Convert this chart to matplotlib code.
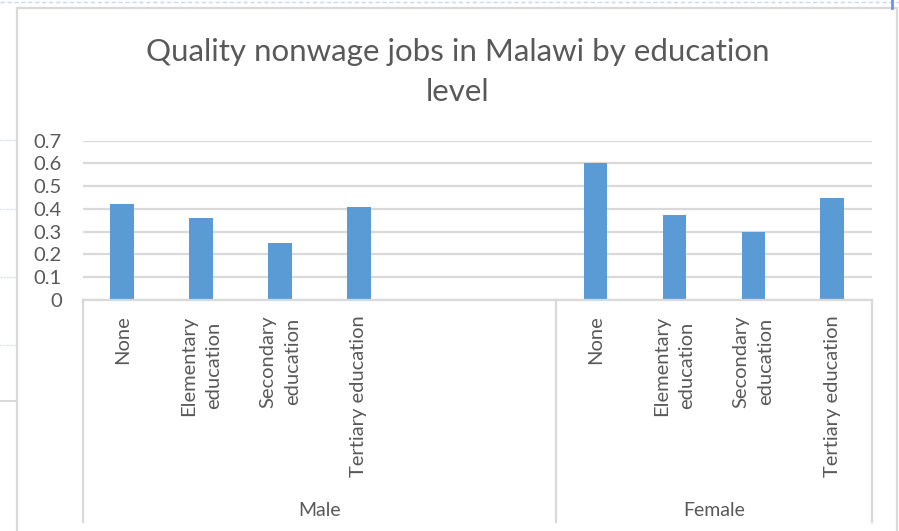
import matplotlib
matplotlib.use("Agg")
import matplotlib.pyplot as plt
from matplotlib.lines import Line2D
from matplotlib.patches import Rectangle
import matplotlib.transforms as mtransforms

# Data
education_levels = ["None", "Elementary\neducation", "Secondary\neducation", "Tertiary education"]
male_values = [0.42, 0.36, 0.25, 0.41]
female_values = [0.60, 0.375, 0.30, 0.45]
groups = ["Male", "Female"]
male_blank_slots = 2          # empty category rows in the Male block
y_ticks = [0, 0.1, 0.2, 0.3, 0.4, 0.5, 0.6, 0.7]
y_tick_labels = ["0", "0.1", "0.2", "0.3", "0.4", "0.5", "0.6", "0.7"]

TEXT = "#595959"
GRID = "#d9d9d9"
BAR = "#5b9bd5"
FONT = ["Lato", "DejaVu Sans"]

W, H = 899, 531
fig = plt.figure(figsize=(W / 100, H / 100), dpi=100)
fig.patch.set_facecolor("white")


def fx(px):
    return px / W


def fy(py):
    return 1 - py / H


# chart area frame and surrounding sheet marks
fig.add_artist(Rectangle((fx(17), fy(600)), fx(897) - fx(17), fy(8) - fy(600),
                         transform=fig.transFigure, fill=False, edgecolor=GRID, lw=1.6))
fig.add_artist(Line2D([0, 1], [fy(2), fy(2)], transform=fig.transFigure,
                      color="#c6d4fb", lw=1, ls=(0, (3, 2))))
fig.add_artist(Line2D([fx(892), fx(892)], [fy(0), fy(8)], transform=fig.transFigure,
                      color="#6f8ff5", lw=2))
fig.add_artist(Line2D([0, fx(17)], [fy(401), fy(401)], transform=fig.transFigure,
                      color=GRID, lw=1.4))
for yy in (140, 209, 277, 345):
    fig.add_artist(Line2D([0, fx(15)], [fy(yy), fy(yy)], transform=fig.transFigure,
                          color="#c6d4fb", lw=0.8, ls=(0, (1.5, 1.5))))

# plot area
left, right, top, bottom = 82.7, 871.7, 140.7, 300.0
ax = fig.add_axes([fx(left), fy(bottom), fx(right) - fx(left), fy(top) - fy(bottom)])

male_labels = education_levels + [""] * male_blank_slots
labels = male_labels + education_levels
n_male = len(male_labels)
male_pos = list(range(len(male_values)))
female_pos = [n_male + i for i in range(len(female_values))]

ax.bar(male_pos, male_values, width=0.30, color=BAR, zorder=3)
ax.bar(female_pos, female_values, width=0.30, color=BAR, zorder=3)

ax.set_xlim(-0.5, len(labels) - 0.5)
ax.set_ylim(0, 0.7)
ax.set_yticks(y_ticks)
ax.set_yticklabels(y_tick_labels, fontfamily=FONT, fontsize=14.5, color=TEXT)
ax.yaxis.grid(True, color=GRID, lw=1.6, zorder=0)
ax.set_axisbelow(True)
for s in ("top", "right", "left"):
    ax.spines[s].set_visible(False)
ax.spines["bottom"].set_color(GRID)
ax.spines["bottom"].set_linewidth(1.6)
ax.spines["bottom"].set_zorder(4)
ax.tick_params(axis="y", length=0, pad=15)
ax.tick_params(axis="x", length=0, pad=11)

ax.set_xticks(range(len(labels)))
ax.set_xticklabels(labels, rotation=90, ha="center", va="top", multialignment="center",
                   fontfamily=FONT, fontsize=14.5, color=TEXT, linespacing=1.55)

# group dividers and group names below the category labels
trans = mtransforms.blended_transform_factory(ax.transData, ax.transAxes)
depth = (bottom - 522) / (bottom - top)
for xb in (-0.5, n_male - 0.5, len(labels) - 0.5):
    ax.add_line(Line2D([xb, xb], [0, depth], transform=trans, color=GRID, lw=1.6,
                       clip_on=False))
label_y = (bottom - 510) / (bottom - top)
ax.text((n_male - 1) / 2, label_y, groups[0], transform=trans, ha="center", va="center",
        fontfamily=FONT, fontsize=14, color=TEXT)
ax.text(n_male + (len(education_levels) - 1) / 2, label_y, groups[1], transform=trans,
        ha="center", va="center", fontfamily=FONT, fontsize=14, color=TEXT)

# title
fig.text(fx(458), fy(72), "Quality nonwage jobs in Malawi by education\nlevel",
         ha="center", va="center", multialignment="center", fontfamily=FONT,
         fontweight="normal", fontsize=22.5, color=TEXT, linespacing=1.5)

fig.savefig("out.png", dpi=100, facecolor="white")
